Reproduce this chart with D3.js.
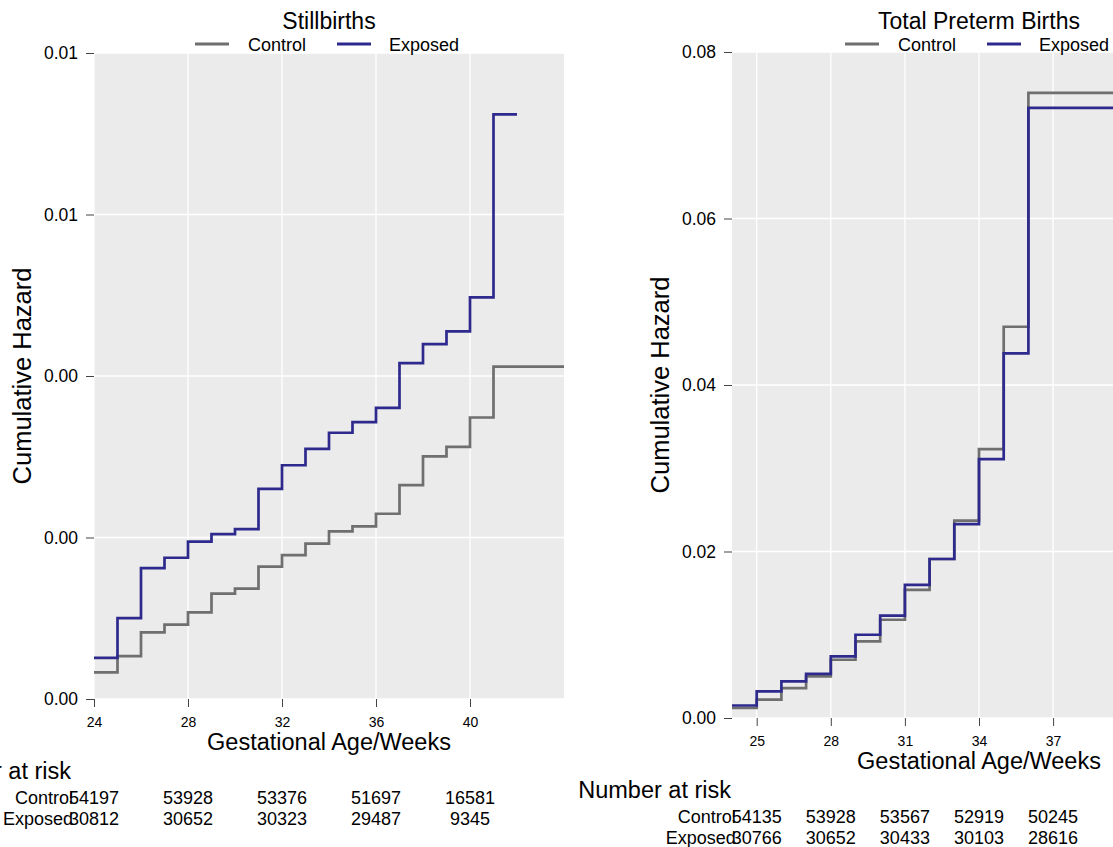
<!DOCTYPE html>
<html lang="en">
<head>
<meta charset="UTF-8">
<title>Cumulative hazard by gestational age</title>
<style>
  body { margin: 0; background: #fff; }
  svg { display: block; font-family: "Liberation Sans", Arial, sans-serif; }
</style>
</head>
<body>
<script src="https://cdn.jsdelivr.net/npm/d3@7/dist/d3.min.js"></script>
<script>
var seriesNames = ["Control", "Exposed"];
var seriesColors = ["#6f6f6f", "#2e2a8d"];

// stillbirths panel
var stillWeeks = [24, 25, 26, 27, 28, 29, 30, 31, 32, 33, 34, 35, 36, 37, 38, 39, 40, 41];
var stillControl = [0.000329, 0.000532, 0.000826, 0.000921, 0.001072, 0.001304, 0.001366, 0.001640, 0.001782,
                    0.001924, 0.002076, 0.002137, 0.002294, 0.002649, 0.003004, 0.003122, 0.003486, 0.004116];
var stillExposed = [0.000509, 0.001001, 0.001621, 0.001749, 0.001948, 0.002043, 0.002104, 0.002601, 0.002895,
                    0.003098, 0.003297, 0.003430, 0.003605, 0.004159, 0.004395, 0.004552, 0.004973, 0.007241];
var stillEnds = [44, 42];
var stillYTicks = [0, 0.002, 0.004, 0.006, 0.008];
var stillXTicks = [24, 28, 32, 36, 40];
var stillRiskControl = [54197, 53928, 53376, 51697, 16581];
var stillRiskExposed = [30812, 30652, 30323, 29487, 9345];

// total preterm births panel (right part of it lies outside the picture)
var pretermWeeks = [24, 25, 26, 27, 28, 29, 30, 31, 32, 33, 34, 35, 36];
var pretermControl = [0.0012, 0.0022, 0.0036, 0.0050, 0.0070, 0.0092, 0.0118, 0.0154, 0.0191, 0.0237, 0.0323, 0.0470, 0.0751];
var pretermExposed = [0.0015, 0.0032, 0.0044, 0.0053, 0.0074, 0.0100, 0.0123, 0.0160, 0.0191, 0.0233, 0.0311, 0.0438, 0.0733];
var pretermEnds = [44, 44];
var pretermYTicks = [0, 0.02, 0.04, 0.06, 0.08];
var pretermXTicks = [25, 28, 31, 34, 37];
var pretermRiskControl = [54135, 53928, 53567, 52919, 50245];
var pretermRiskExposed = [30766, 30652, 30433, 30103, 28616];

var width = 1113;
var height = 847;
var font = "'Liberation Sans', Arial, sans-serif";
var ink = '#000';

var svg = d3.select('body').append('svg').attr('width', width).attr('height', height);

function drawPanel(p) {
    var g = svg.append('g');
    var x = d3.scaleLinear().domain([24, 44]).range([p.left, p.left + p.width]);
    var y = d3.scaleLinear().domain([0, p.yMax]).range([p.top + p.height, p.top]);
    var bottom = p.top + p.height;
    var cx = p.left + p.width / 2;

    g.append('rect').attr('x', p.left).attr('y', p.top)
        .attr('width', p.width).attr('height', p.height).attr('fill', '#ebebeb');

    g.selectAll('.vgrid').data(p.xTicks).enter().append('line')
        .attr('x1', function (d) { return x(d); }).attr('x2', function (d) { return x(d); })
        .attr('y1', p.top).attr('y2', bottom)
        .attr('stroke', '#fff').attr('stroke-width', 1.3);
    g.selectAll('.hgrid').data(p.yTicks).enter().append('line')
        .attr('x1', p.left).attr('x2', p.left + p.width)
        .attr('y1', function (d) { return y(d); }).attr('y2', function (d) { return y(d); })
        .attr('stroke', '#fff').attr('stroke-width', 1.3);

    var yAxis = d3.axisLeft(y).tickValues(p.yTicks).tickFormat(d3.format('.2f')).tickSize(8).tickPadding(8);
    g.append('g').attr('transform', 'translate(' + p.left + ',0)').call(yAxis)
        .attr('font-size', 17.5).attr('font-family', font)
        .call(function (a) { a.select('.domain').remove(); })
        .call(function (a) { a.selectAll('line').attr('stroke', '#444'); })
        .call(function (a) { a.selectAll('text').attr('fill', ink); });

    var xAxis = d3.axisBottom(x).tickValues(p.xTicks).tickFormat(d3.format('d')).tickSize(8).tickPadding(10);
    g.append('g').attr('transform', 'translate(0,' + bottom + ')').call(xAxis)
        .attr('font-size', 14).attr('font-family', font)
        .call(function (a) { a.select('.domain').remove(); })
        .call(function (a) { a.selectAll('line').attr('stroke', '#444'); })
        .call(function (a) { a.selectAll('text').attr('fill', ink); });

    var line = d3.line()
        .x(function (d) { return x(d[0]); })
        .y(function (d) { return y(d[1]); })
        .curve(d3.curveStepAfter);

    p.series.forEach(function (vals, i) {
        var pts = p.weeks.map(function (w, j) { return [w, vals[j]]; });
        pts.push([p.ends[i], vals[vals.length - 1]]);
        g.append('path').datum(pts).attr('d', line)
            .attr('fill', 'none').attr('stroke', seriesColors[i]).attr('stroke-width', 2.7);
    });

    // title and legend
    g.append('text').attr('x', cx).attr('y', 29).attr('text-anchor', 'middle')
        .attr('font-size', 23).attr('fill', ink).text(p.title);

    var legendLines = [[-134, -100], [8, 42]];
    var legendText = [-81, 60];
    seriesNames.forEach(function (name, i) {
        g.append('line').attr('x1', cx + legendLines[i][0]).attr('x2', cx + legendLines[i][1])
            .attr('y1', 44).attr('y2', 44)
            .attr('stroke', seriesColors[i]).attr('stroke-width', 3);
        g.append('text').attr('x', cx + legendText[i]).attr('y', 50.5)
            .attr('font-size', 18).attr('fill', ink).text(name);
    });

    // axis titles
    g.append('text').attr('x', cx).attr('y', bottom + 51).attr('text-anchor', 'middle')
        .attr('font-size', 23.5).attr('fill', ink).text('Gestational Age/Weeks');
    g.append('text')
        .attr('transform', 'translate(' + (p.left - 63) + ',' + (p.top + p.height / 2) + ') rotate(-90)')
        .attr('text-anchor', 'middle').attr('font-size', 25.5).attr('fill', ink)
        .text('Cumulative Hazard');

    // number at risk table
    g.append('text').attr('x', p.riskTitleEnd).attr('y', bottom + 80).attr('text-anchor', 'end')
        .attr('font-size', 23.5).attr('fill', ink).text('Number at risk');

    p.risk.forEach(function (row, i) {
        var ry = bottom + 105 + i * 21;
        g.append('text').attr('x', x(p.riskTicks[0]) - 21).attr('y', ry).attr('text-anchor', 'end')
            .attr('font-size', 18).attr('fill', ink).text(seriesNames[i]);
        g.selectAll('.risk' + i).data(row).enter().append('text')
            .attr('x', function (d, j) { return x(p.riskTicks[j]); })
            .attr('y', ry).attr('text-anchor', 'middle')
            .attr('font-size', 18).attr('fill', ink)
            .text(function (d) { return d; });
    });
}

drawPanel({
    title: 'Stillbirths',
    left: 94, top: 53, width: 470, height: 646,
    yMax: 0.008, yTicks: stillYTicks, xTicks: stillXTicks,
    weeks: stillWeeks, series: [stillControl, stillExposed], ends: stillEnds,
    riskTicks: stillXTicks, risk: [stillRiskControl, stillRiskExposed],
    riskTitleEnd: 71
});

drawPanel({
    title: 'Total Preterm Births',
    left: 732, top: 52, width: 494, height: 666,
    yMax: 0.08, yTicks: pretermYTicks, xTicks: pretermXTicks,
    weeks: pretermWeeks, series: [pretermControl, pretermExposed], ends: pretermEnds,
    riskTicks: pretermXTicks, risk: [pretermRiskControl, pretermRiskExposed],
    riskTitleEnd: 731
});
</script>
</body>
</html>
